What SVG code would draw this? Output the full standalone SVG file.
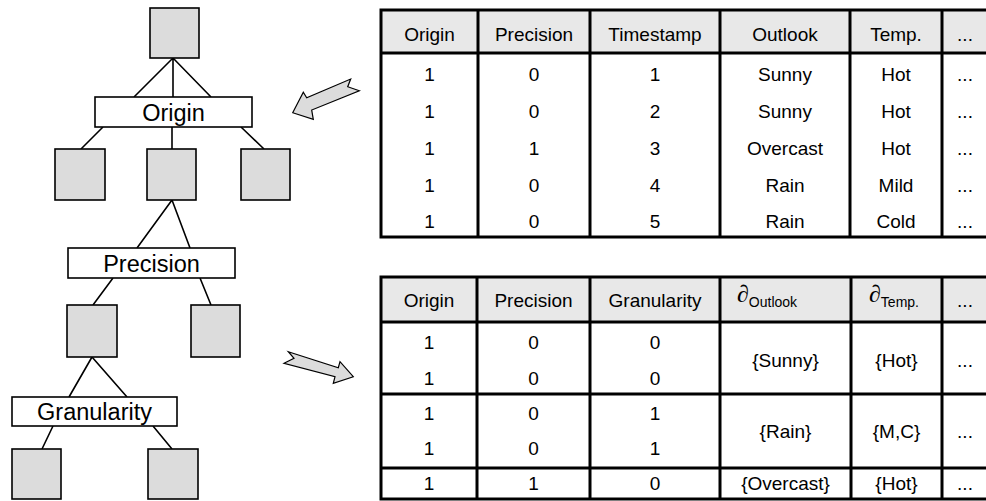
<svg xmlns="http://www.w3.org/2000/svg" width="986" height="501" viewBox="0 0 986 501">
<style>
.sq{fill:#dcdcdc;stroke:#000;stroke-width:1.6}
.lb{fill:#fff;stroke:#000;stroke-width:1.6}
.lt{font-family:"Liberation Sans",Arial,sans-serif;font-size:23.5px;text-anchor:middle;fill:#000}
.ed{stroke:#000;stroke-width:1.6;fill:none}
.hd{fill:#e8e8e8;stroke:none}
.tb{fill:none;stroke:#000;stroke-width:3}
.tx{font-family:"Liberation Sans",Arial,sans-serif;font-size:19px;text-anchor:middle;fill:#000}
.dl{font-family:"Liberation Serif","DejaVu Serif",serif;font-style:italic;font-size:24px}
.sb{font-family:"Liberation Sans",Arial,sans-serif;font-size:14px}
.ar{fill:#dcdcdc;stroke:#000;stroke-width:1.2;stroke-linejoin:miter}
</style>
<g id="connectors">
<path class="ed" d="M173,58 L134,97 M173,58 L173,97 M173,58 L211,97"/>
<path class="ed" d="M103,127 L81,149 M172,127 L172,149 M241,127 L264,149"/>
<path class="ed" d="M172,200 L137,248 M172,200 L190,248"/>
<path class="ed" d="M113,278 L93,305 M200,278 L211,305"/>
<path class="ed" d="M92,357 L69,397 M92,357 L127,397"/>
<path class="ed" d="M53,426 L42,449 M153,426 L172,449"/>
</g>
<g id="n-root"><rect class="sq" x="150" y="8" width="49" height="50"/></g>
<g id="n-origin"><rect class="lb" x="95" y="97" width="157" height="30"/><text class="lt" x="173.5" y="120.5">Origin</text></g>
<g id="n-o1"><rect class="sq" x="55" y="149" width="50" height="51"/></g>
<g id="n-o2"><rect class="sq" x="147" y="149" width="49" height="51"/></g>
<g id="n-o3"><rect class="sq" x="241" y="149" width="49" height="51"/></g>
<g id="n-precision"><rect class="lb" x="68" y="248" width="167" height="30"/><text class="lt" x="151.5" y="271.5">Precision</text></g>
<g id="n-p1"><rect class="sq" x="67" y="305" width="50" height="52"/></g>
<g id="n-p2"><rect class="sq" x="191" y="305" width="49" height="52"/></g>
<g id="n-granularity"><rect class="lb" x="12" y="397" width="165" height="29"/><text class="lt" x="94.5" y="419.5">Granularity</text></g>
<g id="n-g1"><rect class="sq" x="12" y="449" width="49" height="50"/></g>
<g id="n-g2"><rect class="sq" x="148" y="449" width="50" height="50"/></g>

<g id="arrow-top"><polygon class="ar" points="292.7,112.7 303.3,92.3 306.7,97.7 350.7,79 347.7,86.7 359.3,90.7 311.7,110 313.3,119.3"/></g>
<g id="arrow-bottom"><polygon class="ar" points="288.3,351.7 338.3,367.7 340,361.7 353.3,376.7 333.3,383.3 335,376.7 284,363.3 294,358.3"/></g>

<g id="table-top">
<rect class="hd" x="381" y="10" width="610" height="43"/>
<rect class="tb" x="381" y="10" width="610" height="227"/>
<path class="tb" d="M381,53 H991 M478,10 V237 M590,10 V237 M720,10 V237 M850,10 V237 M942,10 V237"/>
<g class="tx">
<text x="429.5" y="40.5">Origin</text><text x="534" y="40.5">Precision</text><text x="655" y="40.5">Timestamp</text><text x="785" y="40.5">Outlook</text><text x="896" y="40.5">Temp.</text><text x="965" y="40.5">...</text>
<text x="429.5" y="81">1</text><text x="534" y="81">0</text><text x="655" y="81">1</text><text x="785" y="81">Sunny</text><text x="896" y="81">Hot</text><text x="965" y="81">...</text>
<text x="429.5" y="118">1</text><text x="534" y="118">0</text><text x="655" y="118">2</text><text x="785" y="118">Sunny</text><text x="896" y="118">Hot</text><text x="965" y="118">...</text>
<text x="429.5" y="155">1</text><text x="534" y="155">1</text><text x="655" y="155">3</text><text x="785" y="155">Overcast</text><text x="896" y="155">Hot</text><text x="965" y="155">...</text>
<text x="429.5" y="192">1</text><text x="534" y="192">0</text><text x="655" y="192">4</text><text x="785" y="192">Rain</text><text x="896" y="192">Mild</text><text x="965" y="192">...</text>
<text x="429.5" y="228">1</text><text x="534" y="228">0</text><text x="655" y="228">5</text><text x="785" y="228">Rain</text><text x="896" y="228">Cold</text><text x="965" y="228">...</text>
</g>
</g>

<g id="table-bottom">
<rect class="hd" x="381" y="277" width="610" height="45"/>
<rect class="tb" x="381" y="277" width="610" height="222"/>
<path class="tb" d="M381,322 H991 M381,394 H991 M381,468 H991 M477,277 V499 M590,277 V499 M720,277 V499 M851,277 V499 M942,277 V499"/>
<g class="tx">
<text x="429" y="307">Origin</text><text x="533.5" y="307">Precision</text><text x="655" y="307">Granularity</text>
<text x="965" y="307">...</text>
<text x="429" y="349">1</text><text x="533.5" y="349">0</text><text x="655" y="349">0</text>
<text x="429" y="385">1</text><text x="533.5" y="385">0</text><text x="655" y="385">0</text>
<text x="429" y="420">1</text><text x="533.5" y="420">0</text><text x="655" y="420">1</text>
<text x="429" y="455">1</text><text x="533.5" y="455">0</text><text x="655" y="455">1</text>
<text x="429" y="490">1</text><text x="533.5" y="490">1</text><text x="655" y="490">0</text>
<text x="785.5" y="367">{Sunny}</text><text x="896.5" y="367">{Hot}</text><text x="965" y="367">...</text>
<text x="785.5" y="438">{Rain}</text><text x="896.5" y="438">{M,C}</text><text x="965" y="438">...</text>
<text x="785.5" y="490">{Overcast}</text><text x="896.5" y="490">{Hot}</text><text x="965" y="490">...</text>
</g>
<text x="737" y="302" style="fill:#000"><tspan class="dl">∂</tspan><tspan class="sb" dy="5">Outlook</tspan></text>
<text x="869" y="302" style="fill:#000"><tspan class="dl">∂</tspan><tspan class="sb" dy="5">Temp.</tspan></text>
</g>
</svg>
